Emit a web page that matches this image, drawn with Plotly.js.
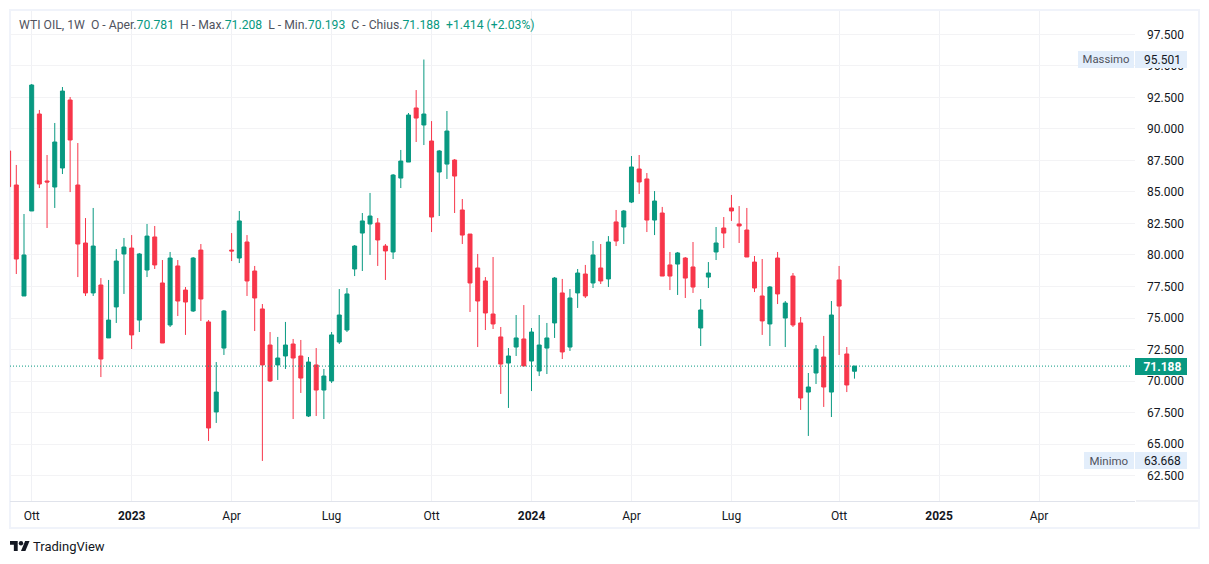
<!DOCTYPE html>
<html>
<head>
<meta charset="utf-8">
<script src="https://cdn.plot.ly/plotly-3.0.1.min.js"></script>
<style>html,body{margin:0;padding:0;background:#fff}#chart{width:1209px;height:564px}</style>
</head>
<body>
<div id="chart"></div>
<script>
// Weekly WTI OIL candles, first week 12 Sep 2022, last week 21 Oct 2024
const open = [88.25,85.55,76.75,83.49,91.18,85.87,85.39,86.90,92.29,85.55,80.95,76.99,77.62,73.42,75.88,80.08,80.55,74.84,78.81,81.43,77.78,74.45,79.13,77.22,75.56,80.39,74.69,67.55,72.62,80.39,79.76,81.03,78.73,75.72,72.86,71.28,71.99,72.94,71.99,67.23,71.28,69.29,70.01,73.10,74.05,78.89,81.74,82.46,82.54,80.71,80.24,86.10,87.37,91.66,90.31,89.04,86.58,87.21,87.53,83.57,81.66,78.97,77.94,75.32,73.50,71.43,72.70,73.34,71.59,70.80,72.62,74.61,76.99,72.70,76.99,78.49,77.78,78.97,78.10,82.62,82.22,84.20,86.82,86.03,82.77,83.33,79.21,79.28,79.76,79.05,74.21,78.25,80.24,82.14,83.73,82.46,81.98,79.44,76.75,74.53,79.76,75.00,78.33,74.61,69.13,70.64,71.91,69.13,78.02,72.15,70.781];
const high = [88.25,87.14,83.25,93.56,91.50,87.93,90.47,93.32,92.53,88.88,82.93,83.73,78.17,78.02,80.47,81.35,81.58,80.16,82.46,82.30,79.60,80.24,79.60,77.46,79.84,80.87,74.84,71.51,75.64,81.74,83.49,81.58,79.13,76.11,73.89,73.50,74.69,73.34,73.26,71.91,72.62,70.96,73.89,77.30,77.38,80.79,83.33,84.92,82.93,80.87,86.42,88.33,91.26,93.08,95.501,90.62,88.33,91.42,87.61,84.44,81.66,80.08,78.25,79.84,74.29,72.62,75.24,76.03,74.21,75.24,74.61,78.25,78.10,77.30,78.89,79.21,81.11,80.87,81.50,83.57,83.57,87.85,87.93,86.50,85.07,83.81,80.24,80.24,79.84,81.03,76.51,79.44,82.22,83.01,84.76,83.88,83.73,79.92,79.68,77.54,80.24,76.35,78.57,75.08,70.64,72.86,73.58,76.35,79.13,72.70,71.208];
const low = [85.42,78.49,76.75,83.49,85.31,82.14,83.73,86.42,84.99,78.25,76.75,76.75,70.32,73.42,74.61,76.91,72.54,73.89,78.25,78.89,73.02,74.29,75.16,73.66,75.48,74.77,65.25,66.68,72.07,79.52,79.36,76.75,73.97,63.668,69.93,70.09,70.96,66.99,69.06,67.15,67.23,66.99,69.85,72.94,73.89,78.33,78.73,80.00,79.13,78.02,79.68,85.31,87.37,88.96,88.72,81.82,83.09,86.03,83.33,80.87,75.48,72.70,74.05,74.13,68.98,67.87,71.99,71.20,69.21,70.40,70.56,73.42,71.75,72.39,75.80,76.59,77.38,77.70,77.46,80.71,80.87,84.12,84.84,81.82,81.58,78.33,77.22,76.83,76.59,76.99,72.78,77.38,79.60,80.55,82.70,80.95,79.84,77.06,73.66,72.78,76.11,72.70,74.29,67.71,65.65,69.77,67.95,67.15,72.07,69.13,70.193];
const close = [85.42,79.68,80.00,93.48,85.63,85.79,88.96,93.00,89.12,80.87,76.99,80.71,71.75,74.84,79.52,80.63,73.66,80.08,81.50,79.21,73.02,79.76,76.35,76.27,79.76,76.51,66.28,69.13,75.56,80.32,82.70,77.94,76.59,71.28,70.01,71.83,72.86,71.83,70.24,71.51,69.29,70.40,73.66,75.24,76.91,80.71,82.70,83.09,81.19,80.32,86.34,87.45,91.10,90.86,91.18,83.01,88.25,89.83,86.26,81.58,77.78,76.35,75.40,74.53,71.35,71.99,73.42,71.20,73.89,72.86,73.42,78.17,72.31,76.59,78.57,76.75,80.00,77.94,81.03,81.11,83.49,86.98,85.79,82.77,84.28,78.33,78.33,80.16,78.17,77.46,75.64,78.57,80.95,81.74,83.49,82.30,79.84,77.38,74.77,77.46,76.91,76.19,74.45,68.66,69.53,72.54,69.53,75.24,75.95,69.69,71.188];
const weekIndex = open.map((_, i) => i);
const tickWeeks = [3,16,29,42,55,68,81,94,108,121,134];
const tickLabels = ['Ott','<b>2023</b>','Apr','Lug','Ott','<b>2024</b>','Apr','Lug','Ott','<b>2025</b>','Apr'];
const change = '+1.414', changePct = '+2.03%';

const last = open.length - 1;
const maxHigh = Math.max(...high), minLow = Math.min(...low);
const GREEN = '#089981', RED = '#F7364A', INK = '#131722', LABEL = '#50535E', FRAME = '#F0F3FA', BADGE = '#E3EEFB';
const FONT = 'Roboto, sans-serif';
const PW = 1125, PH = 490, ML = 10, MT = 11;
const px = x => (x - ML) / PW;
const py = y => 1 - (y - MT) / PH;
const val = s => `<span style="color:${GREEN}">${s}</span>`;
const sp = '\u00A0\u00A0';
const legendText = `<span style="color:${LABEL}">WTI OIL, 1W${sp}O - Aper.</span>${val(open[last].toFixed(3))}` +
  `<span style="color:${LABEL}">${sp}H - Max.</span>${val(high[last].toFixed(3))}` +
  `<span style="color:${LABEL}">${sp}L - Min.</span>${val(low[last].toFixed(3))}` +
  `<span style="color:${LABEL}">${sp}C - Chius.</span>${val(close[last].toFixed(3))}` +
  `${sp}${val(change + ' (' + changePct + ')')}`;

const pix = {xref:'paper', yref:'paper', xsizemode:'pixel', ysizemode:'pixel', xanchor:0, yanchor:0};
const shapes = [
  Object.assign({type:'rect', x0:0, x1:1189, y0:-27, y1:491, line:{color:FRAME, width:2}, fillcolor:'rgba(0,0,0,0)', layer:'below'}, pix),
  Object.assign({type:'line', x0:1126, x1:1188, y0:0, y1:0, line:{color:'#E0E3EB', width:1}, layer:'below'}, pix),
  {type:'line', xref:'paper', yref:'y', x0:0, x1:px(1132), y0:close[last], y1:close[last], line:{color:GREEN, width:1, dash:'1px,2px'}},
  Object.assign({type:'path', path:'M7.7 -49.9 L3.85 -49.9 L3.85 -43.85 L0 -43.85 L0 -40 L7.7 -40 Z', fillcolor:INK, line:{width:0}}, pix),
  Object.assign({type:'path', path:'M15.4 -49.9 L11 -49.9 L15.13 -40 L19.53 -40 Z', fillcolor:INK, line:{width:0}}, pix),
  Object.assign({type:'circle', x0:8.8, x1:13.2, y0:-44.4, y1:-40, fillcolor:INK, line:{width:0}}, pix)
];
const badge = (text, x, width, y, color, bg, bold, size) => ({
  xref:'paper', yref:'y', x:px(x), y, xanchor:'left', yanchor:'middle', width, height:17,
  text: bold ? `<b>${text}</b>` : text, showarrow:false, bgcolor:bg, borderpad:0, borderwidth:0,
  font:{family:FONT, size:size || 12, color}, align:'center'
});
const annotations = [
  {xref:'paper', yref:'paper', x:px(17.5), y:py(24.5), xanchor:'left', yanchor:'middle', text:legendText, showarrow:false, borderpad:0, font:{family:FONT, size:12.2, color:LABEL}},
  badge('Massimo', 1078, 56, maxHigh, LABEL, BADGE, false, 11.3),
  badge('\u00A0' + maxHigh.toFixed(3), 1135, 52, maxHigh, INK, BADGE),
  badge('Minimo', 1084, 50, minLow, LABEL, BADGE, false, 11.5),
  badge('\u00A0' + minLow.toFixed(3), 1135, 52, minLow, INK, BADGE),
  badge('\u00A0' + close[last].toFixed(3), 1135, 52, close[last], '#FFFFFF', GREEN, true),
  {xref:'paper', yref:'paper', x:px(32), y:py(546.5), xanchor:'left', yanchor:'middle', text:'TradingView', showarrow:false, borderpad:0, font:{family:FONT, size:13, color:INK}}
];

const trace = {
  type:'candlestick', x:weekIndex, open, high, low, close,
  increasing:{line:{color:GREEN, width:1}, fillcolor:GREEN},
  decreasing:{line:{color:RED, width:1}, fillcolor:RED},
  whiskerwidth:0, hoverinfo:'skip', showlegend:false
};
const layout = {
  width:1209, height:564,
  margin:{l:ML, r:74, t:MT, b:63, pad:0},
  paper_bgcolor:'#fff', plot_bgcolor:'#fff', boxgap:0.48, boxgroupgap:0,
  showlegend:false, dragmode:false, hovermode:false,
  xaxis:{type:'linear', range:[0.18, 146.48], rangeslider:{visible:false}, tickmode:'array', tickvals:tickWeeks, ticktext:tickLabels,
    showgrid:true, gridcolor:'#F0F1F5', gridwidth:1, zeroline:false, showline:true, linecolor:'#E0E3EB', linewidth:1, ticks:'', tickangle:0, ticklabelstandoff:4,
    tickfont:{family:FONT, size:12, color:INK}},
  yaxis:{type:'linear', side:'right', range:[60.49, 99.35], tick0:0, dtick:2.5, tickformat:'.3f',
    showgrid:true, gridcolor:'#F3F3F5', gridwidth:1, zeroline:false, showline:false, ticks:'', ticklabelstandoff:11,
    tickfont:{family:FONT, size:12, color:INK}},
  shapes, annotations
};
Plotly.newPlot('chart', [trace], layout, {displayModeBar:false, staticPlot:true, responsive:false});
</script>
</body>
</html>
